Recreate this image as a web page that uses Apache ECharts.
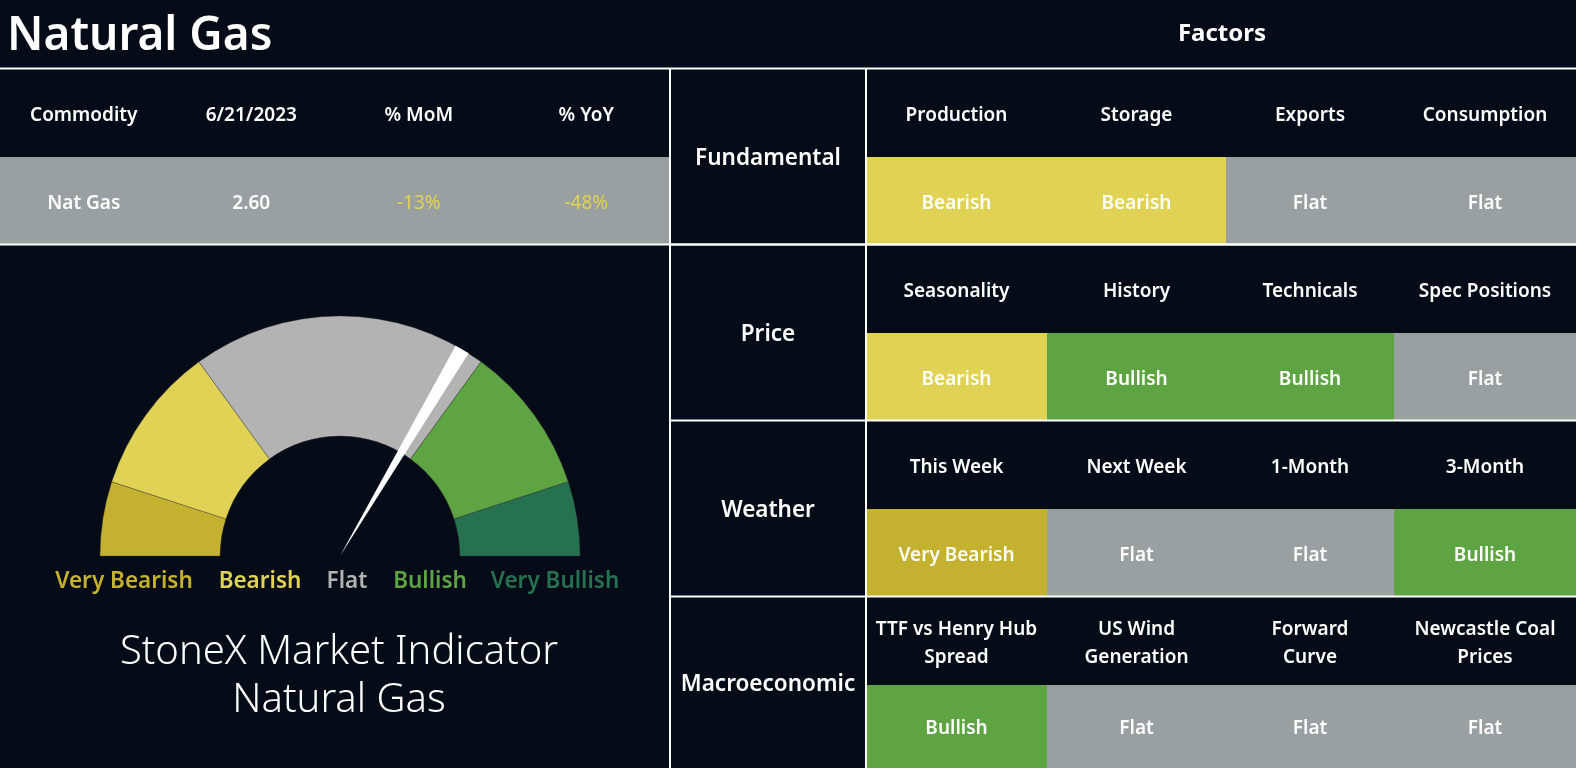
<!DOCTYPE html>
<html>
<head>
<meta charset="utf-8">
<title>Natural Gas - StoneX Market Indicator</title>
<script src="https://cdn.jsdelivr.net/npm/echarts@6/dist/echarts.min.js"></script>
<style>
    html, body { margin: 0; padding: 0; background: #050c17; }
    #echart { width: 1576px; height: 768px; }
</style>
</head>
<body>
<div id="echart"></div>
<script>
// data
var pageTitle = 'Natural Gas';
var factorsTitle = 'Factors';
var tableHeaders = ['Commodity', '6/21/2023', '% MoM', '% YoY'];
var tableRow = ['Nat Gas', '2.60', '-13%', '-48%'];
var tableRowColors = ['#ffffff', '#ffffff', '#e0d255', '#e0d255'];

var groups = ['Fundamental', 'Price', 'Weather', 'Macroeconomic'];
var factorNames = [
    ['Production', 'Storage', 'Exports', 'Consumption'],
    ['Seasonality', 'History', 'Technicals', 'Spec Positions'],
    ['This Week', 'Next Week', '1-Month', '3-Month'],
    ['TTF vs Henry Hub\nSpread', 'US Wind\nGeneration', 'Forward\nCurve', 'Newcastle Coal\nPrices']
];
var factorSignals = [
    ['Bearish', 'Bearish', 'Flat', 'Flat'],
    ['Bearish', 'Bullish', 'Bullish', 'Flat'],
    ['Very Bearish', 'Flat', 'Flat', 'Bullish'],
    ['Bullish', 'Flat', 'Flat', 'Flat']
];

var gaugeLevels = ['Very Bearish', 'Bearish', 'Flat', 'Bullish', 'Very Bullish'];
var gaugeSizes = [1, 2, 4, 2, 1];
var indicatorValue = 6.7;   // scale 0-10
var needleWidth = 0.2;
var indicatorCaption = 'StoneX Market Indicator\nNatural Gas';

(function () {
    // styles
    var bg = '#050c17';
    var fontFam = '"Noto Sans", sans-serif';
    var gaugeColors = ['#c5b130', '#e0d255', '#b3b3b3', '#5ea443', '#267150'];
    var signalColors = {
        'Very Bearish': '#c4b12f',
        'Bearish': '#e0d255',
        'Flat': '#99a09f',
        'Bullish': '#5ea443',
        'Very Bullish': '#267150'
    };

    var myChart = echarts.init(document.getElementById('echart'));

    // layout
    var W = 1576, H = 768;
    var topLine = 68.5;
    var leftW = 670;
    var groupX = 866;
    var colEdges = [866, 1047, 1226, 1394, 1576];
    var rowH = 176;
    var headH = 88.5;
    var dy = 2.5;   // text baseline nudge

    var els = [];
    function txt(x, y, text, size, color, weight, lh) {
        els.push({
            type: 'text', x: x, y: y + dy, z: 10,
            style: {
                text: text, fill: color || '#fff',
                fontSize: size, fontWeight: weight || 600, fontFamily: fontFam,
                align: 'center', verticalAlign: 'middle',
                lineHeight: lh || Math.round(size * 1.3)
            }
        });
    }
    function rect(x, y, w, h, color) {
        els.push({ type: 'rect', z: 1, shape: { x: x, y: y, width: w, height: h }, style: { fill: color } });
    }
    function line(x1, y1, x2, y2) {
        els.push({ type: 'line', z: 5, shape: { x1: x1, y1: y1, x2: x2, y2: y2 }, style: { stroke: '#fff', lineWidth: 2 } });
    }

    // title
    els.push({
        type: 'text', x: 7, y: 37, z: 10,
        style: { text: pageTitle, fill: '#fff', fontSize: 46, fontWeight: 600, fontFamily: fontFam, verticalAlign: 'middle' }
    });
    txt(1222, 32, factorsTitle, 24, '#fff', 700);

    // left table
    var colW = leftW / tableHeaders.length;
    rect(0, topLine + headH, leftW, rowH - headH, signalColors['Flat']);
    for (var i = 0; i < tableHeaders.length; i++) {
        var cx = colW * i + colW / 2;
        txt(cx, topLine + headH / 2, tableHeaders[i], 19);
        txt(cx, topLine + headH + (rowH - headH) / 2, tableRow[i], 19, tableRowColors[i], i < 2 ? 600 : 400);
    }

    // factor groups
    for (var r = 0; r < groups.length; r++) {
        var rowTop = topLine + r * rowH;
        var rowBottom = Math.min(rowTop + rowH, H);
        txt((leftW + groupX) / 2, (rowTop + rowBottom) / 2, groups[r], 22.5);
        for (var c = 0; c < 4; c++) {
            var x0 = colEdges[c], x1 = colEdges[c + 1];
            var sig = factorSignals[r][c];
            rect(x0, rowTop + headH, x1 - x0, rowBottom - rowTop - headH, signalColors[sig]);
            txt((x0 + x1) / 2, rowTop + headH / 2, factorNames[r][c], 19, '#fff', 600, 28);
            txt((x0 + x1) / 2, (rowTop + headH + rowBottom) / 2, sig, 19);
        }
        if (r > 0) line(leftW, rowTop, W, rowTop);
    }

    // grid lines
    line(0, topLine, W, topLine);
    line(0, topLine + rowH, W, topLine + rowH);
    line(leftW, topLine, leftW, H);
    line(groupX, topLine, groupX, H);

    // gauge legend line
    var legendX = [124, 260, 347, 430, 555];
    for (var k = 0; k < gaugeLevels.length; k++) {
        txt(legendX[k], 579, gaugeLevels[k], 22.5, gaugeColors[k], 600);
    }
    txt(339, 674, indicatorCaption, 40, '#fff', 300, 48);

    // gauge data
    var total = 0;
    gaugeSizes.forEach(function (v) { total += v; });
    var bandData = gaugeSizes.map(function (v, idx) {
        return { value: v, name: gaugeLevels[idx], itemStyle: { color: gaugeColors[idx] } };
    });
    bandData.push({ value: total, name: 'hidden', itemStyle: { color: 'rgba(0,0,0,0)', borderWidth: 0 } });

    var needleData = [
        { value: indicatorValue - needleWidth / 2, name: 'a', itemStyle: { color: 'rgba(0,0,0,0)' } },
        { value: needleWidth, name: 'needle', itemStyle: { color: '#ffffff' } },
        { value: total * 2 - indicatorValue - needleWidth / 2, name: 'b', itemStyle: { color: 'rgba(0,0,0,0)' } }
    ];

    var option = {
        backgroundColor: bg,
        animation: false,
        graphic: { elements: els },
        series: [
            {
                name: 'levels',
                type: 'pie',
                center: [340, 556],
                radius: [120, 240],
                startAngle: 180,
                clockwise: true,
                silent: true,
                avoidLabelOverlap: false,
                label: { show: false },
                labelLine: { show: false },
                itemStyle: { borderWidth: 0.6, borderColor: 'rgba(60,60,60,0.6)' },
                data: bandData
            },
            {
                name: 'needle',
                type: 'pie',
                center: [340, 556],
                radius: [0, 240],
                startAngle: 180,
                clockwise: true,
                silent: true,
                label: { show: false },
                labelLine: { show: false },
                itemStyle: { borderWidth: 0 },
                data: needleData
            }
        ]
    };
    myChart.setOption(option);
})();
</script>
</body>
</html>
